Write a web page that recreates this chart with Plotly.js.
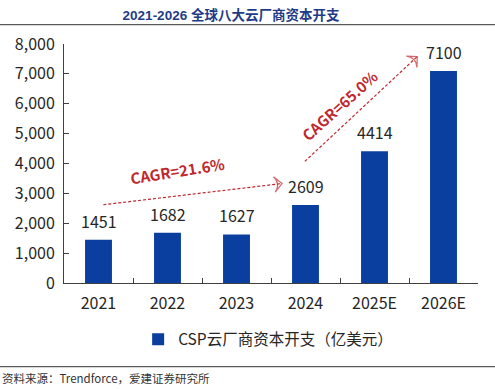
<!DOCTYPE html>
<html>
<head>
<meta charset="utf-8">
<script src="https://cdn.plot.ly/plotly-3.0.1.min.js"></script>
<style>html,body{margin:0;padding:0;background:#fff;}#chart{width:495px;height:389px;}</style>
</head>
<body>
<div id="chart"></div>
<script>
const categories = ['2021', '2022', '2023', '2024', '2025E', '2026E'];
const capex = [1451, 1682, 1627, 2609, 4414, 7100];
const seriesName = 'CSP云厂商资本开支（亿美元）';
const yTickVals = [0, 1000, 2000, 3000, 4000, 5000, 6000, 7000, 8000];
const cagrLabels = ['CAGR=21.6%', 'CAGR=65.0%'];

const W = 495, H = 389;
const L = 64, R = 17.3, T = 44.3, B = 105.7;
const plotH = H - T - B;
const py = p => (H - B - p) / plotH;          // pixel y -> paper y
const px = p => (p - L) / (W - L - R);        // pixel x -> paper x

const cjk = '"Noto Sans CJK SC", "Microsoft YaHei", sans-serif';
const red = '#C0282E';

// arrow geometry (layout, in category-index units on the overlay axis)
const arrows = [
  {x: [0.07, 2.66], y: [2620, 3330]},
  {x: [2.99, 4.62], y: [4070, 7580]}
];

const traces = [{
  type: 'bar',
  x: categories,
  y: capex,
  name: seriesName,
  marker: {color: '#0A3FA0'},
  width: 0.39,
  showlegend: true,
  hoverinfo: 'x+y'
}];
arrows.forEach(a => {
  traces.push({
    type: 'scatter', mode: 'lines+markers', xaxis: 'x2', yaxis: 'y',
    x: a.x, y: a.y, showlegend: false, hoverinfo: 'skip',
    line: {color: red, width: 1.2, dash: '3px,2px'},
    marker: {symbol: ['circle', 'arrow-wide-open'], size: [0, 11], angleref: 'previous',
             color: red, line: {color: red, width: 1.2}}
  });
});

const annotations = capex.map((v, i) => ({
  x: i, y: v, xref: 'x2', yref: 'y', text: String(v), showarrow: false,
  yanchor: 'bottom', yshift: 5, font: {family: cjk, size: 16, color: '#262626'}
}));
annotations.push({
  x: 1.15, y: 3760, xref: 'x2', yref: 'y', text: '<b>' + cagrLabels[0] + '</b>', showarrow: false,
  textangle: -9, font: {family: cjk, size: 15, color: red}
});
annotations.push({
  x: 3.49, y: 5940, xref: 'x2', yref: 'y', text: '<b>' + cagrLabels[1] + '</b>', showarrow: false,
  textangle: -42, font: {family: cjk, size: 15, color: red}
});
annotations.push({
  x: px(0), y: py(378), xref: 'paper', yref: 'paper', xanchor: 'left', yanchor: 'middle',
  text: '资料来源：Trendforce，爱建证券研究所', showarrow: false,
  font: {family: cjk, size: 11.5, color: '#333'}
});

const layout = {
  width: W, height: H,
  margin: {l: L, r: R, t: T, b: B, pad: 0},
  paper_bgcolor: '#fff', plot_bgcolor: '#fff',
  title: {
    text: '<b>2021-2026 全球八大云厂商资本开支</b>',
    x: 231 / W, xanchor: 'center', xref: 'container',
    y: 1 - 15 / H, yanchor: 'middle', yref: 'container',
    font: {family: '"Liberation Sans", "Noto Sans CJK SC", sans-serif', size: 13.5, color: '#1F3C88'}
  },
  xaxis: {
    type: 'category', range: [-0.5, 5.5], showline: true, linecolor: '#404040', linewidth: 1,
    ticks: 'inside', ticklen: 5, tickcolor: '#404040', tickson: 'boundaries',
    showgrid: false, zeroline: false,
    tickfont: {family: cjk, size: 16, color: '#262626'}, ticklabelstandoff: 6
  },
  xaxis2: {
    type: 'linear', range: [-0.5, 5.5], overlaying: 'x', visible: false, showgrid: false, zeroline: false
  },
  yaxis: {
    range: [0, 8000], tickvals: yTickVals, tickformat: ',d', showline: true, linecolor: '#404040',
    linewidth: 1, ticks: 'inside', ticklen: 5, tickcolor: '#404040', showgrid: false, zeroline: false,
    tickfont: {family: cjk, size: 16, color: '#262626'}, ticklabelstandoff: 5
  },
  legend: {
    orientation: 'h', x: px(268), xanchor: 'center', y: py(340), yanchor: 'middle',
    font: {family: cjk, size: 15.5, color: '#262626'}, itemwidth: 30, bgcolor: 'rgba(0,0,0,0)'
  },
  shapes: [
    {type: 'line', xref: 'paper', yref: 'paper', x0: px(0), x1: px(W), y0: py(25), y1: py(25),
     line: {color: '#333', width: 1}},
    {type: 'line', xref: 'paper', yref: 'paper', x0: px(0), x1: px(W), y0: py(367), y1: py(367),
     line: {color: '#333', width: 1}}
  ],
  annotations: annotations,
  showlegend: true
};

Plotly.newPlot('chart', traces, layout, {displayModeBar: false, staticPlot: true});
</script>
</body>
</html>
